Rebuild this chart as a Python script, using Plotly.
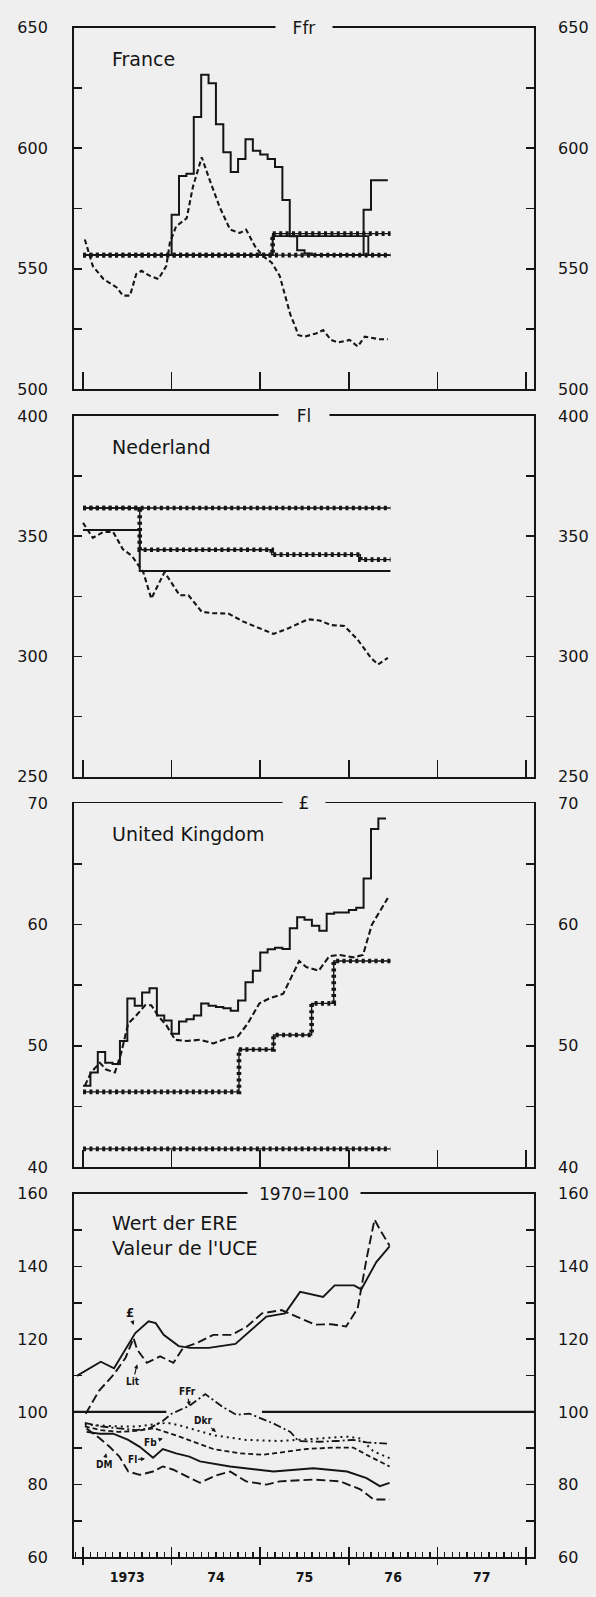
import plotly.graph_objects as go

W, H = 596, 1597
BG = "#efefef"
INK = "#151515"
FONT = "DejaVu Sans, Liberation Sans, Arial, sans-serif"
NARROW = "DejaVu Sans Condensed, Liberation Sans Narrow, DejaVu Sans, sans-serif"

# ---------------- time axis (decimal years) ----------------
year_ticks = [1973, 1974, 1975, 1976, 1977, 1978]
year_label_pos = [1973.5, 1974.5, 1975.5, 1976.5, 1977.5]
year_labels = ["1973", "74", "75", "76", "77"]
x_range = [1972.898, 1978.09]

# ---------------- France (Ffr) ----------------
fr_ticks = [500, 525, 550, 575, 600, 625, 650]
fr_labels = ["500", "", "550", "", "600", "", "650"]
fr_market_start = 1973.0
fr_market_end = 1976.44
fr_market = [555.7, 555.7, 555.7, 555.7, 555.7, 555.7, 555.7, 555.7, 555.7, 555.7, 555.7, 555.7,
             572.4, 588.5, 589.5, 613.0, 630.5, 627.0, 610.0, 598.4, 590.2, 595.6, 603.8, 599.0,
             597.4, 595.6, 592.2, 578.6, 563.5, 557.7, 556.4, 555.7, 555.7, 555.7, 555.7, 555.7,
             555.7, 555.7, 574.5, 586.8, 586.8, 586.8]
fr_parity_x = [1973.0, 1976.47]
fr_parity_y = [555.7, 555.7]
fr_green_x = [1973.0, 1975.14, 1976.47]
fr_green_y = [555.7, 564.6, 564.6]
fr_central_x = [1973.0, 1975.14, 1976.22, 1976.47]
fr_central_y = [555.7, 563.6, 555.7, 555.7]
fr_dash_x = [1973.02, 1973.11, 1973.23, 1973.38, 1973.45, 1973.53, 1973.60, 1973.66, 1973.75, 1973.85,
             1973.94, 1973.98, 1974.05, 1974.17, 1974.24, 1974.34, 1974.43, 1974.54, 1974.66, 1974.77,
             1974.84, 1974.94, 1975.03, 1975.13, 1975.22, 1975.29, 1975.34, 1975.39, 1975.43, 1975.50,
             1975.63, 1975.71, 1975.80, 1975.88, 1976.01, 1976.10, 1976.18, 1976.35, 1976.44]
fr_dash_y = [562.2, 551.2, 545.8, 542.3, 538.9, 538.9, 547.8, 549.2, 547.2, 545.8,
             551.2, 560.8, 567.6, 571.0, 584.0, 596.3, 586.8, 575.8, 566.3, 564.9,
             566.3, 559.4, 555.3, 552.6, 547.1, 537.6, 531.0, 526.6, 522.5, 521.9,
             523.2, 524.6, 520.5, 519.5, 520.5, 517.8, 521.9, 520.8, 520.8]

# ---------------- Nederland (Fl) ----------------
nl_ticks = [250, 275, 300, 325, 350, 375, 400]
nl_labels = ["250", "", "300", "", "350", "", "400"]
nl_parity_x = [1973.0, 1976.47]
nl_parity_y = [361.8, 361.8]
nl_green_x = [1973.0, 1973.64, 1975.13, 1976.13, 1976.47]
nl_green_y = [361.8, 344.4, 342.4, 340.3, 340.3]
nl_central_x = [1973.0, 1973.64, 1976.47]
nl_central_y = [352.6, 335.6, 335.6]
nl_dash_x = [1973.00, 1973.11, 1973.23, 1973.34, 1973.45, 1973.55, 1973.68, 1973.77, 1973.92, 1974.09,
             1974.19, 1974.34, 1974.47, 1974.64, 1974.81, 1974.98, 1975.15, 1975.32, 1975.54, 1975.67,
             1975.80, 1975.95, 1976.10, 1976.25, 1976.33, 1976.44]
nl_dash_y = [355.6, 349.4, 351.8, 351.8, 344.6, 341.9, 335.1, 324.1, 335.1, 325.5,
             325.5, 318.6, 318.0, 317.9, 314.5, 311.8, 309.4, 311.8, 315.5, 315.0,
             313.1, 312.7, 307.0, 299.4, 296.7, 299.4]

# ---------------- United Kingdom (£) ----------------
uk_ticks = [40, 45, 50, 55, 60, 65, 70]
uk_labels = ["40", "", "50", "", "60", "", "70"]
uk_market_start = 1973.0
uk_market_end = 1976.42
uk_market = [46.7, 47.8, 49.5, 48.6, 48.5, 50.4, 53.9, 53.3, 54.4, 54.75,
             52.5, 52.1, 51.0, 52.0, 52.2, 52.5, 53.5, 53.3, 53.2, 53.1,
             52.9, 53.75, 55.25, 56.2, 57.7, 57.96, 58.1, 58.0, 59.7, 60.6,
             60.4, 59.9, 59.5, 60.9, 61.0, 61.0, 61.2, 61.4, 63.8, 67.9, 68.75]
uk_parity_x = [1973.0, 1976.47]
uk_parity_y = [41.5, 41.5]
uk_green_x = [1973.0, 1974.76, 1975.15, 1975.58, 1975.83, 1976.47]
uk_green_y = [46.2, 49.7, 50.9, 53.5, 57.0, 57.0]
uk_dash_x = [1973.02, 1973.09, 1973.19, 1973.26, 1973.36, 1973.43, 1973.51, 1973.60, 1973.70, 1973.77,
             1973.85, 1973.94, 1974.04, 1974.17, 1974.32, 1974.47, 1974.62, 1974.75, 1974.86, 1974.99,
             1975.10, 1975.26, 1975.35, 1975.44, 1975.52, 1975.66, 1975.78, 1975.90, 1976.05, 1976.16,
             1976.26, 1976.35, 1976.44]
uk_dash_y = [46.7, 47.8, 48.6, 48.05, 47.8, 49.4, 51.85, 52.5, 53.35, 53.35,
             52.45, 51.7, 50.5, 50.4, 50.5, 50.2, 50.6, 50.8, 51.85, 53.5,
             53.9, 54.3, 55.65, 57.0, 56.5, 56.2, 57.4, 57.5, 57.3, 57.5,
             60.0, 61.1, 62.2]

# ---------------- Value of the EUA, 1970 = 100 ----------------
ix_ticks = [60, 70, 80, 90, 100, 110, 120, 130, 140, 150, 160]
ix_labels = ["60", "", "80", "", "100", "", "120", "", "140", "", "160"]
base_level = 100
base_gap = [1973.94, 1975.02]
gbp_x = [1972.93, 1973.20, 1973.35, 1973.48, 1973.59, 1973.74, 1973.82, 1973.91, 1974.08, 1974.21,
         1974.42, 1974.72, 1974.90, 1975.07, 1975.28, 1975.45, 1975.71, 1975.84, 1976.06, 1976.14,
         1976.31, 1976.46]
gbp_y = [109.9, 113.8, 112.0, 117.2, 121.7, 124.9, 124.4, 121.2, 118.1, 117.6,
         117.6, 118.7, 122.6, 126.2, 127.1, 133.0, 131.6, 134.8, 134.8, 133.7,
         141.2, 145.5]
lit_x = [1973.03, 1973.18, 1973.35, 1973.48, 1973.57, 1973.61, 1973.72, 1973.87, 1974.02, 1974.13,
         1974.29, 1974.47, 1974.68, 1974.85, 1975.02, 1975.24, 1975.45, 1975.62, 1975.80, 1975.97,
         1976.10, 1976.20, 1976.29, 1976.35, 1976.46]
lit_y = [99.5, 105.8, 110.4, 114.9, 120.3, 117.2, 113.5, 115.3, 113.5, 117.6,
         119.0, 121.2, 121.2, 123.5, 127.1, 128.0, 125.8, 124.0, 124.1, 123.5,
         128.5, 142.1, 152.9, 150.2, 145.7]
ffr_x = [1973.02, 1973.20, 1973.40, 1973.60, 1973.75, 1973.90, 1974.00, 1974.09, 1974.20, 1974.38,
         1974.58, 1974.73, 1974.88, 1975.15, 1975.34, 1975.43, 1975.67, 1975.86, 1976.05, 1976.20,
         1976.43]
ffr_y = [97.0, 96.0, 95.5, 95.0, 95.5, 97.5, 99.5, 100.4, 101.7, 104.9,
         101.3, 99.2, 99.5, 96.8, 94.5, 92.0, 91.8, 92.0, 92.3, 91.6,
         91.3]
bfr_x = [1973.02, 1973.20, 1973.40, 1973.60, 1973.80, 1973.95, 1974.09, 1974.28, 1974.47, 1974.84,
         1975.22, 1975.67, 1975.98, 1976.13, 1976.28, 1976.46]
bfr_y = [96.5, 96.3, 96.0, 96.0, 96.5, 97.0, 96.3, 95.0, 93.6, 92.3,
         92.0, 92.7, 93.2, 92.7, 89.1, 87.3]
dkr_x = [1973.02, 1973.20, 1973.40, 1973.60, 1973.80, 1974.00, 1974.09, 1974.47, 1974.77, 1975.03,
         1975.52, 1975.83, 1976.05, 1976.24, 1976.46]
dkr_y = [96.0, 95.0, 94.5, 94.8, 95.5, 94.0, 93.2, 89.8, 88.6, 88.2,
         89.8, 90.2, 90.2, 87.7, 85.0]
fl_x = [1973.04, 1973.19, 1973.34, 1973.51, 1973.64, 1973.79, 1973.90, 1974.05, 1974.20, 1974.32,
        1974.66, 1975.15, 1975.60, 1975.98, 1976.20, 1976.35, 1976.46]
fl_y = [94.5, 94.0, 94.0, 92.3, 90.4, 87.4, 89.8, 88.6, 87.7, 86.4,
        85.0, 83.6, 84.5, 83.6, 81.8, 79.6, 80.5]
dm_x = [1973.04, 1973.19, 1973.30, 1973.41, 1973.51, 1973.64, 1973.79, 1973.90, 1974.02, 1974.13,
        1974.32, 1974.50, 1974.66, 1974.84, 1975.07, 1975.22, 1975.60, 1975.90, 1976.13, 1976.28,
        1976.46]
dm_y = [95.4, 92.7, 90.4, 87.7, 83.6, 82.7, 83.6, 85.0, 84.1, 82.7,
        80.5, 82.5, 83.6, 80.9, 80.0, 80.9, 81.4, 80.9, 78.7, 75.9,
        75.9]
# currency labels: (text, x, y of the arrow head, arrow offset px)
cur_labels = [("£", 1973.57, 123.9, -4, -13), ("Lit", 1973.61, 113.1, -4, 17),
              ("FFr", 1974.20, 101.7, -2, -14), ("Dkr", 1974.50, 94.5, -13, -11),
              ("Fb", 1973.90, 92.7, -12, 4), ("Fl", 1973.70, 87.1, -13, 1),
              ("DM", 1973.26, 88.6, -2, 11)]

# ---------------- layout geometry (pixels) ----------------
X0_PX, X1_PX = 74, 534
panels = [  # (top px, bottom px, range, ticks, labels, title, title gap px, name)
    (19, 385, [500, 650], fr_ticks, fr_labels, "Ffr", 52, "France"),
    (412, 777, [250, 400], nl_ticks, nl_labels, "Fl", 46, "Nederland"),
    (804, 1172, [40, 70], uk_ticks, uk_labels, "£", 38, "United Kingdom"),
    (1199, 1567, [60, 160], ix_ticks, ix_labels, "1970=100", 108, "Wert der ERE<br>Valeur de l'UCE"),
]

fig = go.Figure()
xdom = [X0_PX / W, X1_PX / W]


def months_x(start, n, end):
    return [start + i / 12 for i in range(n)] + [end]


def add_line(x, y, k, dash="solid", width=1.6, shape="linear"):
    fig.add_trace(go.Scatter(x=x, y=y, mode="lines", xaxis="x" if k == 1 else f"x{k}",
                             yaxis="y" if k == 1 else f"y{k}",
                             line=dict(color=INK, width=width, dash=dash, shape=shape),
                             hoverinfo="skip", showlegend=False))


def add_starred(x, y, k):
    add_line(x, y, k, width=1.4, shape="hv")
    add_line(x, y, k, dash="3px,3.4px", width=4.6, shape="hv")


# Panel 1 France
add_starred(fr_parity_x, fr_parity_y, 1)
add_starred(fr_green_x, fr_green_y, 1)
add_line(fr_central_x, fr_central_y, 1, width=1.9, shape="hv")
add_line(months_x(fr_market_start, len(fr_market), fr_market_end), fr_market + [fr_market[-1]], 1,
         width=2.0, shape="hv")
add_line(fr_dash_x, fr_dash_y, 1, dash="5px,3px", width=2.1)

# Panel 2 Nederland
add_starred(nl_parity_x, nl_parity_y, 2)
add_starred(nl_green_x, nl_green_y, 2)
add_line(nl_central_x, nl_central_y, 2, width=2.0, shape="hv")
add_line(nl_dash_x, nl_dash_y, 2, dash="5px,3px", width=2.1)

# Panel 3 United Kingdom
add_starred(uk_parity_x, uk_parity_y, 3)
add_starred(uk_green_x, uk_green_y, 3)
add_line(months_x(uk_market_start, len(uk_market), uk_market_end), uk_market + [uk_market[-1]], 3,
         width=2.0, shape="hv")
add_line(uk_dash_x, uk_dash_y, 3, dash="6px,3px", width=2.1)

# Panel 4 index
add_line([x_range[0], base_gap[0]], [base_level, base_level], 4, width=2.3)
add_line([base_gap[1], x_range[1]], [base_level, base_level], 4, width=2.3)
add_line(gbp_x, gbp_y, 4, width=1.9)
add_line(lit_x, lit_y, 4, dash="9px,4px", width=1.9)
add_line(ffr_x, ffr_y, 4, dash="8px,3px,2px,3px", width=1.8)
add_line(bfr_x, bfr_y, 4, dash="2px,4px", width=2.0)
add_line(dkr_x, dkr_y, 4, dash="5px,3px", width=1.8)
add_line(fl_x, fl_y, 4, width=1.9)
add_line(dm_x, dm_y, 4, dash="9px,4px", width=1.9)

layout = dict(width=W, height=H, margin=dict(l=0, r=0, t=0, b=0),
              paper_bgcolor=BG, plot_bgcolor=BG, showlegend=False,
              font=dict(family=FONT, color=INK))
annotations = []
tickfont = dict(family=FONT, size=16, color=INK)

for k, (top, bot, rng, ticks, labels, title, gap, name) in enumerate(panels, start=1):
    sx = "" if k == 1 else str(k)
    ydom = [1 - bot / H, 1 - top / H]
    layout[f"xaxis{sx}"] = dict(domain=xdom, range=x_range, anchor=f"y{sx}", tickmode="array",
                                tickvals=year_ticks, ticks="inside", ticklen=17 if k < 4 else 10,
                                tickwidth=1.7, tickcolor=INK, showticklabels=False,
                                showline=True, mirror=True, linecolor=INK, linewidth=1.9,
                                showgrid=False, zeroline=False, fixedrange=True)
    common = dict(domain=ydom, range=rng, tickmode="array", tickvals=ticks, ticktext=labels,
                  ticks="inside", ticklen=8, tickwidth=1.7, tickcolor=INK, showline=True,
                  linecolor=INK, linewidth=1.9, showgrid=False, zeroline=False,
                  tickfont=tickfont, fixedrange=True)
    layout[f"yaxis{sx}"] = dict(common, anchor=f"x{sx}", side="left", ticklabelstandoff=21)
    layout[f"yaxis{k + 4}"] = dict(common, anchor=f"x{sx}", side="right",
                                   overlaying=f"y{sx}", ticklabelstandoff=19)
    # dummy invisible trace so the right-hand axis exists
    fig.add_trace(go.Scatter(x=[x_range[0]], y=[rng[0]], xaxis=f"x{sx}", yaxis=f"y{k + 4}",
                             mode="markers", marker=dict(opacity=0), hoverinfo="skip",
                             showlegend=False))
    annotations.append(dict(text=title, x=(xdom[0] + xdom[1]) / 2, xref="paper", y=rng[1],
                            yref=f"y{sx}", xanchor="center", yanchor="middle", showarrow=False,
                            bgcolor=BG, borderpad=2, width=gap,
                            font=dict(family=FONT, size=17, color=INK)))
    annotations.append(dict(text=name, x=1973.30, xref=f"x{sx}", y=rng[1], yref=f"y{sx}",
                            xanchor="left", yanchor="top", yshift=-18 if k < 4 else -16,
                            showarrow=False, align="left",
                            font=dict(family=FONT, size=19, color=INK)))

# extra bottom axes: minor month ticks, crossing year ticks, year labels
layout["xaxis4"]["minor"] = dict(tickmode="linear", tick0=1973, dtick=1 / 12, ticks="inside",
                                 ticklen=5, tickwidth=1.3, tickcolor=INK)
layout["xaxis9"] = dict(domain=xdom, range=x_range, anchor="y4", overlaying="x4",
                        tickmode="array", tickvals=year_ticks, ticks="outside", ticklen=7,
                        tickwidth=1.7, tickcolor=INK, showticklabels=False, showline=False,
                        showgrid=False, zeroline=False, fixedrange=True)
layout["xaxis10"] = dict(domain=xdom, range=x_range, anchor="y4", overlaying="x4",
                         tickmode="array", tickvals=year_label_pos, ticktext=year_labels,
                         ticks="", showline=False, showgrid=False, zeroline=False,
                         ticklabelstandoff=10, fixedrange=True,
                         tickfont=dict(family=NARROW, size=14, color=INK, weight="bold"))
for ax in ("x9", "x10"):
    fig.add_trace(go.Scatter(x=[x_range[0]], y=[60], xaxis=ax, yaxis="y4", mode="markers",
                             marker=dict(opacity=0), hoverinfo="skip", showlegend=False))

for text, hx, hy, ax, ay in cur_labels:
    annotations.append(dict(text=text, x=hx, y=hy, xref="x4", yref="y4", ax=ax, ay=ay,
                            showarrow=True, arrowhead=2, arrowsize=0.7, arrowwidth=1.2,
                            arrowcolor=INK, standoff=0, startstandoff=0,
                            font=dict(family=NARROW, size=10 if text != "£" else 13, color=INK,
                                      weight="bold")))

layout["annotations"] = annotations
fig.update_layout(**layout)
fig.write_html("out.html", config={"displayModeBar": False, "staticPlot": True},
               post_script="document.body.style.margin='0';document.body.style.padding='0';"
                           "document.body.style.overflow='hidden';"
                           "document.documentElement.style.background='#efefef';")
